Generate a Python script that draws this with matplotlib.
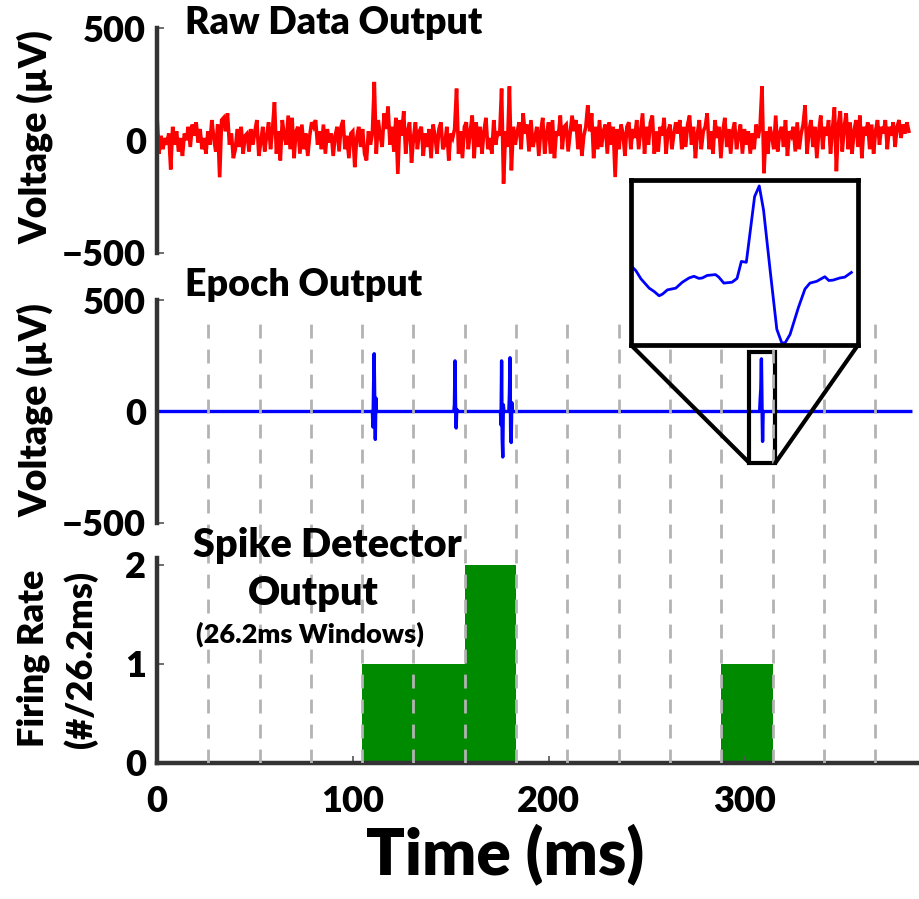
import numpy as np
import matplotlib
matplotlib.use("Agg")
import matplotlib.pyplot as plt
from matplotlib.patches import Rectangle, ConnectionPatch

plt.rcParams['font.family'] = ['Lato', 'DejaVu Sans']
plt.rcParams['font.weight'] = 'heavy'
FW = 'heavy'

# ---------------- data ----------------
# raw recording, 1 ms per sample (µV)
raw_v = [
    110, -60, 20, -40, 10, -20, 30, -130, 60, -20, 40, -50, 10, -70, 30, 0, 60, -30, 70, 20,
    80, -10, 50, -40, 10, -60, 40, -20, 90, 10, -50, 70, -165, 90, 100, 40, 120, -20, 30, -80,
    -40, 50, -30, 60, -60, 20, 30, -50, 50, -20, 40, 90, -70, -10, 60, -50, 20, 80, -40, 50,
    170, -60, 40, -90, 90, 20, -20, 110, -40, 100, -80, 40, 60, -60, 70, -40, 30, -70, 20, 80,
    60, 90, -20, 40, -40, 70, -60, 50, -10, 30, -70, 20, 60, -50, 60, 90, -40, 20, -80, 30,
    40, -120, 10, 60, -30, 50, -60, -90, 40, -20, 30, 260, -60, 90, 20, -30, 120, 50, 150, -20,
    60, -50, 100, -150, 90, 20, 130, -60, 40, 80, -100, 10, 80, -40, 40, 60, -70, 30, -30, 50,
    -80, 70, 20, -60, 50, 80, -40, -20, 60, -90, 30, 10, 50, 230, -60, 40, -80, 60, 80, -40,
    40, 110, -80, 80, -30, 60, -60, 40, 100, -40, 10, -60, 90, -20, 40, 20, 230, -193, 40, -30,
    240, -134, 60, -20, 40, 80, -40, 120, 30, 70, -50, 90, -30, 10, 60, -70, 40, 100, -60, 30,
    80, -60, 90, -80, 40, 20, 110, -40, 60, 70, -50, 30, 110, 40, 90, -40, 70, -70, 20, 60,
    156, 40, 120, -80, 60, -40, 90, -30, 40, 70, -60, 80, -20, 60, -164, 50, -40, 70, 30, -70,
    60, 80, -40, 50, 10, 90, -40, 40, 120, -60, 60, -20, 80, 110, -60, 40, -50, 60, 20, 100,
    -60, 40, 70, -40, 30, 80, 30, 90, -40, 60, -30, 70, 110, -20, 60, -80, 30, 90, -40, 40,
    60, 120, -40, 40, -60, 90, 10, 60, -80, 40, 100, -30, 50, -60, 40, 80, -40, 20, 70, -60,
    50, -20, 40, -60, 30, -40, 70, 10, 60, 241, -147, 40, -60, 60, 20, -40, 110, -50, 30, 60,
    -30, 90, -70, 40, 20, 60, -50, 80, -40, 30, 70, 156, -60, 40, 90, -30, 60, -80, 40, 110,
    -40, 60, 20, 90, -60, 50, 147, -138, 70, 130, -50, 60, 120, -40, 80, -60, 40, 90, -30, 110,
    -80, 60, 20, 80, -40, 70, -60, 40, 90, -20, 60, 30, 90, -40, 60, 20, 80, -30, 60, 90,
    10, 70, 30, 80, 40,
]
raw_t = np.arange(len(raw_v))

# epoch output (time ms, µV)
epoch_t = [0, 110.0, 110.3, 110.6, 110.9, 111.2, 111.5, 111.8, 112.1,
           151.6, 151.9, 152.2, 152.5, 152.8, 153.1, 153.4,
           175.4, 175.7, 176.0, 176.3, 176.6, 176.9, 177.2,
           179.7, 180.0, 180.3, 180.6, 180.9, 181.2, 181.5,
           307.8, 308.1, 308.4, 308.7, 309.0, 309.3, 309.6,
           385]
epoch_v = [0, 0, -70, 110, 259, 60, -125, 60, 0,
           0, 30, 227, 20, -74, 10, 0,
           0, -60, 227, -120, -204, 30, 0,
           0, 80, 241, -90, -139, 40, 0,
           0, 60, 100, 236, 30, -134, 0,
           0]

# zoomed spike waveform (inset)
inset_t = [0.40, 0.50, 0.65, 0.90, 1.05, 1.20, 1.30, 1.45, 1.70, 1.90, 2.10, 2.25, 2.40,
           2.50, 2.65, 2.90, 3.00, 3.15, 3.40, 3.55, 3.68, 3.83, 4.08, 4.22, 4.35, 4.55,
           4.75, 4.90, 5.00, 5.15, 5.40, 5.60, 5.75, 5.95, 6.20, 6.32, 6.45, 6.65, 6.80, 7.00]
inset_v = [44, 36, 17, -5, -13, -23, -19, -9, -5, 9, 19, 23, 18,
           19, 25, 27, 21, 7, 9, 18, 58, 56, 211, 236, 179, 36,
           -102, -134, -134, -114, -51, -7, 7, 11, 22, 13, 14, 19, 21, 32]

# spike detector output
window_ms = 26.2
n_windows = 14
bar_starts = [104.8, 131.0, 157.2, 288.2]
bar_counts = [1, 1, 2, 1]

# zoom box on the epoch trace
zoom_t0, zoom_t1 = 302.6, 315.8
zoom_v0, zoom_v1 = -231, 268

XMAX = 389.7
SPINE_C = '#333333'

fig = plt.figure(figsize=(9.2, 8.99), dpi=100)
L, W = 157 / 920, 763 / 920
H = 899.0

def fy(px):
    return 1 - px / H

ax1 = fig.add_axes([L, fy(252.5), W, (252.5 - 28) / H])
ax2 = fig.add_axes([L, fy(523), W, (523 - 300) / H])
ax3 = fig.add_axes([L, fy(763), W, (763 - 558) / H])

TICK_FS = 26
for ax in (ax1, ax2, ax3):
    ax.set_xlim(0, XMAX)
    ax.patch.set_alpha(0)
    for s in ('top', 'right'):
        ax.spines[s].set_visible(False)
    ax.spines['left'].set_color(SPINE_C)
    ax.spines['left'].set_linewidth(3.2)
    ax.spines['bottom'].set_color(SPINE_C)
    ax.spines['bottom'].set_linewidth(3.2)
    ax.tick_params(axis='both', direction='in', length=5, width=1.2, color='#555555',
                   labelsize=TICK_FS, pad=8)

for ax in (ax1, ax2):
    ax.spines['bottom'].set_visible(False)
    ax.set_xticks([])
    ax.set_ylim(-500, 500)
    ax.set_yticks([-500, 0, 500])

ax1.plot(raw_t, raw_v, color='#ff0000', lw=2.6, solid_joinstyle='miter')
ax2.plot(epoch_t, epoch_v, color='#0000ff', lw=2.4)

ax3.bar(bar_starts, bar_counts, width=window_ms, align='edge', color='#008a00', edgecolor='none')
ax3.set_ylim(0, 2.07)
ax3.set_yticks([0, 1, 2])
ax3.set_xticks([0, 100, 200, 300])
ax3.tick_params(axis='x', pad=16)

# dashed window boundaries spanning epoch + detector panels
axd = fig.add_axes([L, fy(763), W, (763 - 323) / H], zorder=3)
axd.set_xlim(0, XMAX)
axd.set_ylim(0, 1)
axd.axis('off')
boundaries = np.arange(1, n_windows + 1) * window_ms
axd.vlines(boundaries, 0, 1, colors='#b3b3b3', linestyles=(0, (5, 4)), lw=2.0)

# zoom rectangle on epoch trace
rect = Rectangle((zoom_t0, zoom_v0), zoom_t1 - zoom_t0, zoom_v1 - zoom_v0, fill=False,
                 edgecolor='black', lw=3, clip_on=False, zorder=6)
ax2.add_patch(rect)

# inset
axi = fig.add_axes([631 / 920, fy(345), 227 / 920, (345 - 180) / H], zorder=5)
axi.plot(inset_t, inset_v, color='#0000ff', lw=2.0)
axi.set_xlim(0.35, 7.2)
axi.set_ylim(-139, 250)
axi.set_xticks([])
axi.set_yticks([])
for s in axi.spines.values():
    s.set_linewidth(3.4)
    s.set_color('black')

for xa, xb in ((0, zoom_t0), (1, zoom_t1)):
    con = ConnectionPatch(xyA=(xa, 0), coordsA='axes fraction', axesA=axi,
                          xyB=(xb, zoom_v0), coordsB='data', axesB=ax2,
                          color='black', lw=3, zorder=6)
    fig.add_artist(con)

# titles
fig.text(185 / 920, fy(23), 'Raw Data Output', fontsize=27, fontweight=FW, ha='left', va='center')
fig.text(185 / 920, fy(285), 'Epoch Output', fontsize=27, fontweight=FW, ha='left', va='center')
fig.text(327 / 920, fy(545), 'Spike Detector', fontsize=28.5, fontweight=FW, ha='center', va='center')
fig.text(313 / 920, fy(594), 'Output', fontsize=28.5, fontweight=FW, ha='center', va='center')
fig.text(310 / 920, fy(634), '(26.2ms Windows)', fontsize=19.5, fontweight=FW, ha='center', va='center')

# y labels
for yc in (137, 410):
    fig.text(35 / 920, fy(yc), 'Voltage (µV)', fontsize=27, fontweight=FW, rotation=90,
             ha='center', va='center')
fig.text(33 / 920, fy(658), 'Firing Rate', fontsize=26, fontweight=FW, rotation=90,
         ha='center', va='center')
fig.text(81 / 920, fy(659), '(#/26.2ms)', fontsize=26, fontweight=FW, rotation=90,
         ha='center', va='center')

# x label
fig.text(505 / 920, fy(854), 'Time (ms)', fontsize=46, fontweight=FW, ha='center', va='center')

fig.savefig('out.png', dpi=100)
